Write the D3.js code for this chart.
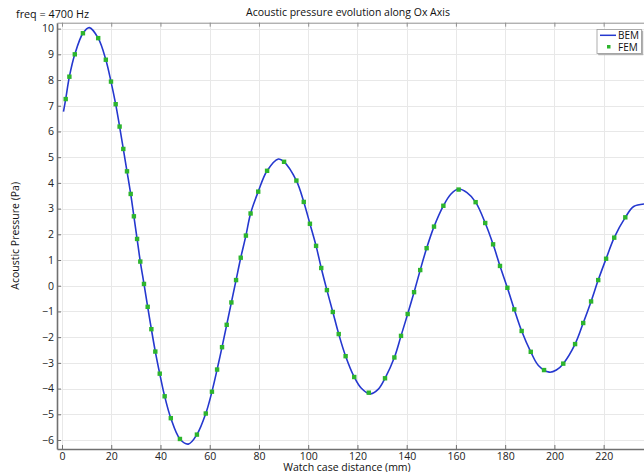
<!DOCTYPE html>
<html>
<head>
<meta charset="utf-8">
<script src="https://cdn.jsdelivr.net/npm/d3@7"></script>
<style>
  html, body { margin: 0; padding: 0; background: #fff; }
  svg { display: block; font-family: "Open Sans", "Noto Sans", sans-serif; }
</style>
</head>
<body>
<svg id="chart" width="644" height="472"></svg>
<script>
// BEM solution: sampled pressure along the Ox axis (mm, Pa)
const bemX = [0.6, 1.5, 3.0, 5.2, 8.5, 11.1, 14.7, 17.8, 19.9, 21.8, 23.4, 24.9, 26.4, 27.9, 29.2, 30.5,
  31.8, 33.3, 34.8, 36.3, 37.9, 39.7, 41.7, 44.2, 47.9, 51.3, 54.8, 58.4, 60.9, 63.0, 65.0, 66.9,
  68.8, 70.7, 72.6, 74.7, 76.6, 79.7, 83.3, 87.9, 90.2, 95.2, 98.2, 100.7, 103.2, 105.3, 107.6,
  110.0, 112.4, 115.2, 118.7, 121.5, 125.1, 128.5, 131.2, 135.0, 137.7, 140.4, 143.0, 145.5, 148.1,
  151.1, 154.9, 158.0, 161.0, 164.5, 168.0, 171.9, 175.1, 177.9, 180.9, 183.7, 186.7, 190.4, 193.5,
  197.9, 200.8, 203.6, 208.4, 211.7, 214.9, 217.8, 221.0, 224.3, 228.8, 232.2, 236.4];
const bemY = [6.77, 7.26, 8.13, 9.00, 9.82, 10.04, 9.63, 8.79, 7.94, 7.06, 6.19, 5.32, 4.45, 3.57, 2.70, 1.82,
  0.94, 0.07, -0.82, -1.69, -2.56, -3.42, -4.30, -5.15, -5.96, -6.16, -5.79, -4.97, -4.12, -3.26, -2.39, -1.52,
  -0.65, 0.22, 1.09, 1.95, 2.81, 3.66, 4.47, 4.93, 4.82, 4.09, 3.26, 2.41, 1.55, 0.69, -0.17,
  -1.02, -1.88, -2.74, -3.55, -3.98, -4.21, -4.02, -3.60, -2.79, -1.95, -1.10, -0.25, 0.61, 1.46,
  2.30, 3.11, 3.57, 3.76, 3.62, 3.25, 2.44, 1.61, 0.77, -0.08, -0.92, -1.76, -2.57, -3.10,
  -3.36, -3.28, -3.03, -2.27, -1.45, -0.61, 0.22, 1.05, 1.87, 2.66, 3.08, 3.18];

// FEM solution: marker positions along the same axis
const femX = [1.5, 3.0, 5.2, 8.5, 14.7, 17.8, 19.9, 21.8, 23.4, 24.9, 26.4, 27.9, 29.2, 30.5, 31.8, 33.3,
  34.8, 36.3, 37.9, 39.7, 41.7, 44.2, 47.9, 54.8, 58.4, 60.9, 63.0, 65.0, 66.9, 68.8, 70.7, 72.6,
  74.7, 76.6, 79.7, 83.3, 90.2, 95.2, 98.2, 100.7, 103.2, 105.3, 107.6, 110.0, 112.4, 115.2, 118.7,
  124.6, 131.2, 135.0, 137.7, 140.4, 143.0, 145.5, 148.1, 151.1, 154.9, 161.1, 168.0, 171.9, 175.1,
  177.9, 180.9, 183.7, 186.7, 190.4, 195.8, 203.6, 208.4, 211.7, 214.9, 217.8, 221.0, 224.3, 228.8];
const femY = [7.26, 8.13, 9.00, 9.82, 9.63, 8.79, 7.94, 7.06, 6.19, 5.32, 4.45, 3.57, 2.70, 1.82, 0.94, 0.07,
  -0.82, -1.69, -2.56, -3.42, -4.30, -5.15, -5.96, -5.79, -4.97, -4.12, -3.26, -2.39, -1.52, -0.65, 0.22, 1.09,
  1.95, 2.81, 3.66, 4.47, 4.82, 4.09, 3.26, 2.41, 1.55, 0.69, -0.17, -1.02, -1.88, -2.74, -3.55,
  -4.16, -3.60, -2.79, -1.95, -1.10, -0.25, 0.61, 1.46, 2.30, 3.11, 3.74, 3.25, 2.44, 1.61,
  0.77, -0.08, -0.92, -1.76, -2.57, -3.28, -3.03, -2.27, -1.45, -0.61, 0.22, 1.05, 1.87, 2.66];

const xTicks = [0, 20, 40, 60, 80, 100, 120, 140, 160, 180, 200, 220];
const yTicks = [-6, -5, -4, -3, -2, -1, 0, 1, 2, 3, 4, 5, 6, 7, 8, 9, 10];
const seriesNames = ["BEM", "FEM"];

const plot = { left: 57, top: 22.7, right: 645, bottom: 449 };
const bemColor = "#2538cf";
const femColor = "#2db52d";
const fontSize = 10.5;

const svg = d3.select("#chart");

const x = d3.scaleLinear().domain([-2.03, 236.8]).range([plot.left, plot.right]);
const y = d3.scaleLinear().domain([-6.35, 10.23]).range([plot.bottom, plot.top]);

// plot background
svg.append("rect")
  .attr("x", plot.left).attr("y", plot.top)
  .attr("width", plot.right - plot.left).attr("height", plot.bottom - plot.top)
  .attr("fill", "#fff");

// grid
const grid = svg.append("g").attr("stroke", "#e8e8e8").attr("stroke-width", 1);
grid.selectAll("line.v").data(xTicks).join("line")
  .attr("x1", d => Math.round(x(d)) + 0.5).attr("x2", d => Math.round(x(d)) + 0.5)
  .attr("y1", plot.top).attr("y2", plot.bottom);
grid.selectAll("line.h").data(yTicks).join("line")
  .attr("y1", d => Math.round(y(d)) + 0.5).attr("y2", d => Math.round(y(d)) + 0.5)
  .attr("x1", plot.left).attr("x2", plot.right);

// axes with ticks pointing into the plot area
const xAxis = d3.axisBottom(x).tickValues(xTicks).tickSize(-4).tickPadding(4).tickSizeOuter(0);
const yAxis = d3.axisLeft(y).tickValues(yTicks).tickSize(-4).tickPadding(3).tickSizeOuter(0)
  .tickFormat(d3.format("d"));
const xTop = d3.axisTop(x).tickValues(xTicks).tickSize(-4).tickFormat("").tickSizeOuter(0);

function styleAxis(g) {
  g.select(".domain").attr("stroke", "#707070").attr("stroke-width", 1.6);
  g.selectAll(".tick line").attr("stroke", "#707070");
  g.selectAll(".tick text").attr("fill", "#222").attr("font-size", fontSize)
    .attr("font-family", "\"Open Sans\", sans-serif");
}

svg.append("g").attr("transform", `translate(0,${plot.bottom})`).call(xAxis).call(styleAxis);
svg.append("g").attr("transform", `translate(${plot.left},0)`).call(yAxis).call(styleAxis);
svg.append("g").attr("transform", `translate(0,${plot.top})`).call(xTop).call(g => {
  g.select(".domain").attr("stroke", "#909090").attr("stroke-width", 1);
  g.selectAll(".tick line").attr("stroke", "#909090");
});

// BEM curve
const bem = bemX.map((v, i) => [v, bemY[i]]);
const line = d3.line().x(d => x(d[0])).y(d => y(d[1])).curve(d3.curveCatmullRom.alpha(0.5));
svg.append("defs").append("clipPath").attr("id", "clip")
  .append("rect").attr("x", plot.left).attr("y", plot.top)
  .attr("width", plot.right - plot.left).attr("height", plot.bottom - plot.top);
svg.append("path").datum(bem)
  .attr("clip-path", "url(#clip)")
  .attr("fill", "none").attr("stroke", bemColor).attr("stroke-width", 1.6)
  .attr("d", line);

// FEM markers
const fem = femX.map((v, i) => [v, femY[i]]);
svg.append("g").selectAll("rect").data(fem).join("rect")
  .attr("x", d => x(d[0]) - 2.2).attr("y", d => y(d[1]) - 2.2)
  .attr("width", 4.4).attr("height", 4.4)
  .attr("fill", femColor);

// titles
svg.append("text").attr("x", 16).attr("y", 18)
  .attr("font-size", 10.8).attr("fill", "#111").text("freq = 4700 Hz");
svg.append("text").attr("x", 348).attr("y", 16).attr("text-anchor", "middle")
  .attr("font-size", fontSize).attr("fill", "#111").text("Acoustic pressure evolution along Ox Axis");
svg.append("text").attr("x", 347).attr("y", 470.5).attr("text-anchor", "middle")
  .attr("font-size", fontSize).attr("fill", "#111").text("Watch case distance (mm)");
svg.append("text").attr("transform", `translate(19,${(plot.top + plot.bottom) / 2}) rotate(-90)`)
  .attr("text-anchor", "middle").attr("font-size", fontSize).attr("fill", "#111")
  .text("Acoustic Pressure (Pa)");

// legend
const lg = svg.append("g").attr("transform", "translate(597,29.5)");
lg.append("rect").attr("x", 1.2).attr("y", 1.2).attr("width", 45).attr("height", 24.5).attr("fill", "#b0b0b0");
lg.append("rect").attr("x", 0).attr("y", 0).attr("width", 44.5).attr("height", 24)
  .attr("fill", "#fff").attr("stroke", "#9a9a9a").attr("stroke-width", 0.8);
lg.append("line").attr("x1", 3).attr("x2", 19).attr("y1", 5.8).attr("y2", 5.8)
  .attr("stroke", bemColor).attr("stroke-width", 1.5);
lg.append("rect").attr("x", 10).attr("y", 15.5).attr("width", 3.5).attr("height", 3.5).attr("fill", femColor);
lg.selectAll("text.lab").data(seriesNames).join("text")
  .attr("x", 21).attr("y", (d, i) => 9.6 + i * 11.6)
  .attr("font-size", 10).attr("fill", "#111").text(d => d);
</script>
</body>
</html>
